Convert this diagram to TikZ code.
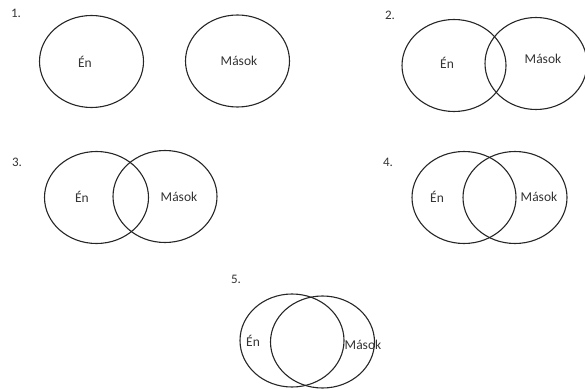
\documentclass[tikz,border=0pt]{standalone}
\usepackage{fontspec}
\setmainfont{Carlito}
\usetikzlibrary{shapes.geometric}
\begin{document}
\begin{tikzpicture}[x=1pt,y=-1pt,
  circ/.style={ellipse,draw=black!85,line width=1.1pt,inner sep=0pt,minimum width=104pt,minimum height=92pt},
  lbl/.style={inner sep=0pt,font=\fontsize{13.5}{15}\selectfont,text=black!80},
  num/.style={inner sep=0pt,font=\fontsize{13}{15}\selectfont,text=black!80}]
\useasboundingbox (0,0) rectangle (585,390);
\begin{scope}
\clip (0,0) rectangle (585,390);
% 1
\node[circ] (a1) at (91.5,61.5) {};
\node[circ] (b1) at (237.5,61) {};
\node[num] (n1) at (16,13) {1.};
\node[lbl] (e1) at (85,62) {Én};
\node[lbl] (m1) at (239,61) {Mások};
% 2
\node[circ] (a2) at (454,65.5) {};
\node[circ,minimum width=102pt] (b2) at (536,63.5) {};
\node[num] (n2) at (390,15) {2.};
\node[lbl] (e2) at (447,63) {Én};
\node[lbl] (m2) at (543,59) {Mások};
% 3
\node[circ] (a3) at (96.5,197.5) {};
\node[circ] (b3) at (165,196.5) {};
\node[num] (n3) at (17,162) {3.};
\node[lbl] (e3) at (82,197) {Én};
\node[lbl] (m3) at (179,197) {Mások};
% 4
\node[circ] (a4) at (464,197.5) {};
\node[circ] (b4) at (515,197.5) {};
\node[num] (n4) at (388,162) {4.};
\node[lbl] (e4) at (437,197) {Én};
\node[lbl] (m4) at (539,197) {Mások};
% 5
\node[circ,minimum height=93pt] (a5) at (292,340.5) {};
\node[circ] (b5) at (322.5,342) {};
\node[num] (n5) at (236,279) {5.};
\node[lbl] (e5) at (253,341) {Én};
\node[lbl] (m5) at (363,345) {Mások};
\end{scope}
\end{tikzpicture}
\end{document}
